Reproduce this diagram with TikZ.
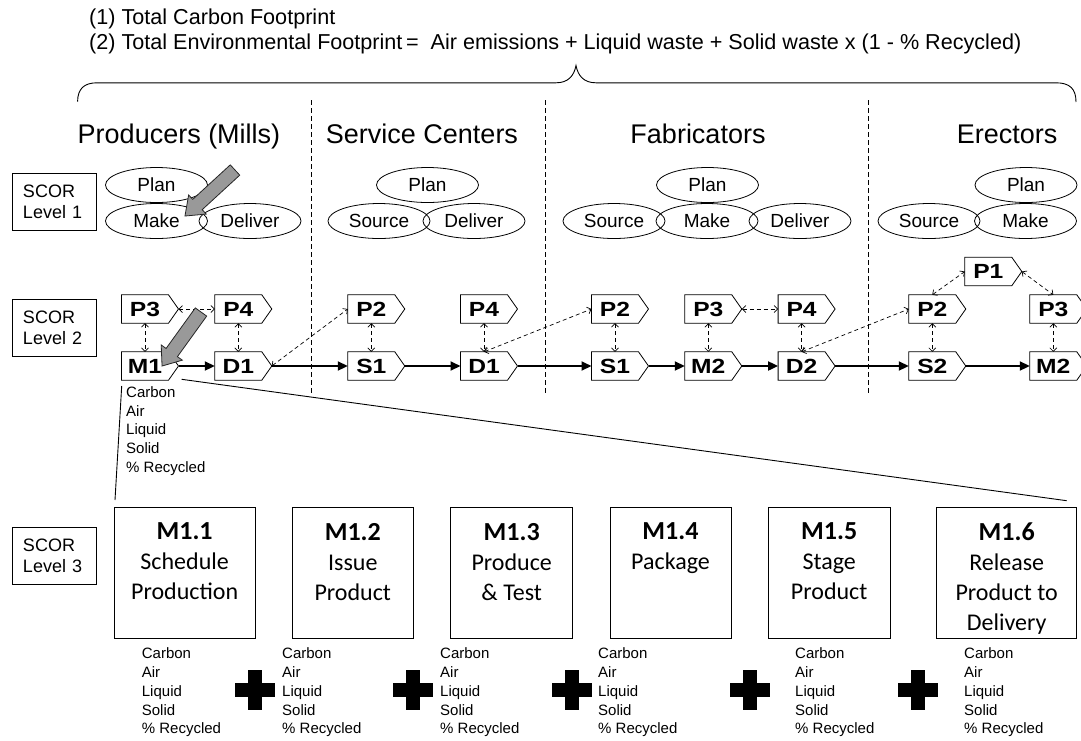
\documentclass[tikz,border=0pt]{standalone}
\usepackage{fontspec}
\setmainfont{Liberation Sans}
\newfontfamily\boxfont{Carlito}
\newfontfamily\procfont[FakeStretch=1.2]{Liberation Sans}
\usetikzlibrary{arrows.meta,shapes.geometric}

% process step of SCOR level 2: flat left side, pointed right side
\newcommand\procbox[4]{%
  \node[proc] (#1) at (#2,#3) {#4};
  \draw[procline] (#1.north west) -- (#1.north east) -- ([xshift=10pt]#1.east)
    -- (#1.south east) -- (#1.south west) -- cycle;
  \coordinate (#1-tip) at ([xshift=10pt]#1.east);
}

\begin{document}
\begin{tikzpicture}[x=1pt, y=-1pt,
  every node/.style={inner sep=0pt},
  formula/.style={anchor=base west, font=\fontsize{21.6}{24}\selectfont},
  title/.style={anchor=base, font=\fontsize{27}{30}\selectfont},
  scor/.style={draw, line width=0.8pt, minimum width=84pt, minimum height=57pt,
    text width=62pt, inner xsep=11pt, align=left, font=\fontsize{18}{21}\selectfont},
  act/.style={ellipse, draw, line width=0.8pt, minimum width=102pt, minimum height=35pt,
    font=\fontsize{19}{19}\selectfont},
  proc/.style={minimum width=46.6pt, minimum height=28pt, font=\procfont\bfseries\fontsize{20.5}{20.5}\selectfont},
  procline/.style={line width=0.8pt, line join=miter},
  flow/.style={line width=1.9pt, -{Triangle[length=10pt,width=9pt]}},
  link/.style={line width=0.7pt, dash pattern=on 4pt off 3pt,
    {Straight Barb[length=3.5pt,width=7pt]}-{Straight Barb[length=3.5pt,width=7pt]}},
  metrics/.style={align=left, anchor=north west, font=\fontsize{15}{18.75}\selectfont},
  stepbox/.style={draw, line width=1pt, minimum height=130.7pt},
  boxtext/.style={font=\boxfont\fontsize{24}{30}\selectfont, align=center, anchor=north},
  sep/.style={line width=0.8pt, dash pattern=on 5pt off 3pt},
  blockarrow/.style={draw=black!85, fill=black!40, line width=0.8pt, line join=miter},
  sumsign/.pic={\fill (-20pt,-6.7pt) rectangle (20pt,6.7pt);
                \fill (-6.7pt,-20pt) rectangle (6.7pt,20pt);}
]
\fill[white] (0,0) rectangle (1081,740);
\useasboundingbox (0,0) rectangle (1081,740);

% footprint formulas
\node[formula] (fp1) at (89,24.8) {(1) Total Carbon Footprint};
\node[formula] (fp2) at (89,49.3) {(2) Total Environmental Footprint\,= \ Air emissions + Liquid waste + Solid waste x (1 - \% Recycled)};

% brace over the whole chain
\draw[line width=0.9pt] (77.6,101.7) .. controls (77.6,89) and (84,82.8) .. (97,82.8)
  -- (556,82.8) .. controls (568,82.8) and (574,76) .. (576,65.5)
  .. controls (578,76) and (584,82.8) .. (596,82.8)
  -- (1056,82.8) .. controls (1070,82.8) and (1076,89) .. (1076,102);

% column separators
\draw[sep] (311,100) -- (311,395);
\draw[sep] (545,100) -- (545,395);
\draw[sep] (868,100) -- (868,395);

% column titles
\node[title] (tProd) at (179,143) {Producers (Mills)};
\node[title] (tServ) at (422,143) {Service Centers};
\node[title] (tFab)  at (698,143) {Fabricators};
\node[title] (tErec) at (1007,143) {Erectors};

% level labels
\node[scor] (lv1) at (54,201.5) {SCOR\\Level 1};
\node[scor] (lv2) at (54,328) {SCOR\\Level 2};
\node[scor] (lv3) at (54,556) {SCOR\\Level 3};

% SCOR level 1 processes
\node[act] (planA) at (156.5,185) {Plan};
\node[act] (makeA) at (156.5,221) {Make};
\node[act] (delA)  at (250,221) {Deliver};
\node[act] (planB) at (427.5,185) {Plan};
\node[act] (srcB)  at (379,221) {Source};
\node[act] (delB)  at (474,221) {Deliver};
\node[act] (planC) at (707.5,185) {Plan};
\node[act] (srcC)  at (614,221) {Source};
\node[act] (makeC) at (707,221) {Make};
\node[act] (delC)  at (800,221) {Deliver};
\node[act] (planD) at (1026,185) {Plan};
\node[act] (srcD)  at (929,221) {Source};
\node[act] (makeD) at (1025.5,221) {Make};

% SCOR level 2 process steps
\procbox{P3a}{145}{309}{P3}
\procbox{M1a}{145}{366}{M1}
\procbox{P4a}{238.3}{309}{P4}
\procbox{D1a}{238.3}{366}{D1}
\procbox{P2b}{371.3}{309}{P2}
\procbox{S1b}{371.3}{366}{S1}
\procbox{P4b}{484}{309}{P4}
\procbox{D1b}{484}{366}{D1}
\procbox{P2c}{615}{309}{P2}
\procbox{S1c}{615}{366}{S1}
\procbox{P3c}{708.3}{309}{P3}
\procbox{M2c}{708.3}{366}{M2}
\procbox{P4c}{801.6}{309}{P4}
\procbox{D2c}{801.6}{366}{D2}
\procbox{P2d}{932.3}{309}{P2}
\procbox{S2d}{932.3}{366}{S2}
\procbox{P1d}{988.3}{271.5}{P1}
\procbox{P3d}{1053.3}{309}{P3}
\procbox{M2d}{1053.3}{366}{M2}

% material flow
\draw[flow] (M1a-tip) -- (D1a.west);
\draw[flow] (D1a-tip) -- (S1b.west);
\draw[flow] (S1b-tip) -- (D1b.west);
\draw[flow] (D1b-tip) -- (S1c.west);
\draw[flow] (S1c-tip) -- (M2c.west);
\draw[flow] (M2c-tip) -- (D2c.west);
\draw[flow] (D2c-tip) -- (S2d.west);
\draw[flow] (S2d-tip) -- (M2d.west);

% planning links
\draw[link] (P3a.south) -- (M1a.north);
\draw[link] (P3a-tip) -- (P4a.west);
\draw[link] (P4a.south) -- (D1a.north);
\draw[link] (D1a-tip) -- (P2b.west);
\draw[link] (P2b.south) -- (S1b.north);
\draw[link] (P4b.south) -- (D1b.north);
\draw[link] (D1b.north) -- (P2c.west);
\draw[link] (P2c.south) -- (S1c.north);
\draw[link] (P3c.south) -- (M2c.north);
\draw[link] (P3c-tip) -- (P4c.west);
\draw[link] (P4c.south) -- (D2c.north);
\draw[link] (D2c.north) -- (P2d.west);
\draw[link] (P2d.south) -- (S2d.north);
\draw[link] (P2d.north) -- (P1d.west);
\draw[link] (P1d-tip) -- (P3d.north);
\draw[link] (P3d.south) -- (M2d.north);

% metrics of M1
\node[metrics] (mM1) at (126,386.3) {Carbon\\Air\\Liquid\\Solid\\\% Recycled};

% SCOR level 3 steps
\node[stepbox, minimum width=140.7pt] (m11) at (184.65,572.7) {};
\node[stepbox, minimum width=121pt]   (m12) at (352.8,572.7) {};
\node[stepbox, minimum width=122pt]   (m13) at (511.7,572.7) {};
\node[stepbox, minimum width=121pt]   (m14) at (670.5,572.7) {};
\node[stepbox, minimum width=121.7pt] (m15) at (829.2,572.7) {};
\node[stepbox, minimum width=140pt]   (m16) at (1006.7,572.7) {};

\newcommand\steplabel[1]{{\fontsize{26}{30}\selectfont\bfseries #1}}
\node[boxtext] (t11) at ([yshift=-16pt]m11.north) {\steplabel{M1.1}\\Schedule\\Production};
\node[boxtext] (t12) at ([yshift=-16pt]m12.north) {\steplabel{M1.2}\\Issue\\Product};
\node[boxtext] (t13) at ([yshift=-16pt]m13.north) {\steplabel{M1.3}\\Produce\\\& Test};
\node[boxtext] (t14) at ([yshift=-16pt]m14.north) {\steplabel{M1.4}\\Package};
\node[boxtext] (t15) at ([yshift=-16pt]m15.north) {\steplabel{M1.5}\\Stage\\Product};
\node[boxtext] (t16) at ([yshift=-16pt]m16.north) {\steplabel{M1.6}\\Release\\Product to\\Delivery};

% zoom lines from M1 to its level 3 steps
\coordinate (zA1) at (121.7,386);
\coordinate (zA2) at (115,500);
\coordinate (zB1) at (181.7,379.3);
\coordinate (zB2) at (1066.7,500.7);
\draw[line width=0.9pt] (zA1) -- (zA2);
\draw[line width=0.9pt] (zB1) -- (zB2);

% metrics of the level 3 steps
\node[metrics] (x11) at (141.7,647.9) {Carbon\\Air\\Liquid\\Solid\\\% Recycled};
\node[metrics] (x12) at (282,647.9) {Carbon\\Air\\Liquid\\Solid\\\% Recycled};
\node[metrics] (x13) at (440,647.9) {Carbon\\Air\\Liquid\\Solid\\\% Recycled};
\node[metrics] (x14) at (598,647.9) {Carbon\\Air\\Liquid\\Solid\\\% Recycled};
\node[metrics] (x15) at (795,647.9) {Carbon\\Air\\Liquid\\Solid\\\% Recycled};
\node[metrics] (x16) at (964,647.9) {Carbon\\Air\\Liquid\\Solid\\\% Recycled};

\pic at (255,690) {sumsign};
\pic at (413,690) {sumsign};
\pic at (572,690) {sumsign};
\pic at (750,690) {sumsign};
\pic at (918,690) {sumsign};

% highlight arrows pointing at Make / M1
\begin{scope}[shift={(235,170)}, rotate=222.6]
  \draw[blockarrow] (0pt,7pt) -- (51pt,7pt) -- (51pt,13pt) -- (68pt,0pt)
    -- (51pt,-13pt) -- (51pt,-7pt) -- (0pt,-7pt) -- cycle;
\end{scope}
\begin{scope}[shift={(201,312)}, rotate=234.2]
  \draw[blockarrow] (0pt,7pt) -- (50pt,7pt) -- (50pt,13pt) -- (66.6pt,0pt)
    -- (50pt,-13pt) -- (50pt,-7pt) -- (0pt,-7pt) -- cycle;
\end{scope}
\end{tikzpicture}
\end{document}
